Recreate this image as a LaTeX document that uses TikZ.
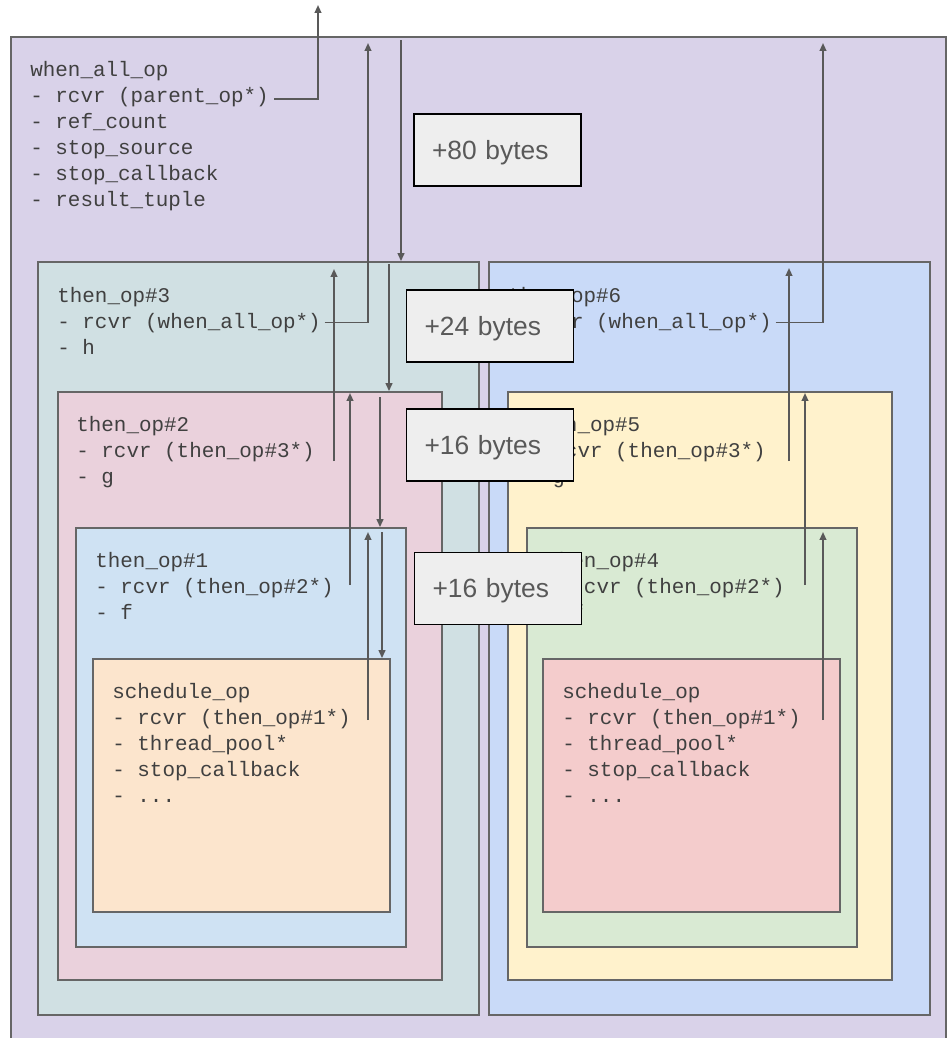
\documentclass[tikz,border=0pt]{standalone}
\usepackage{fontspec}
\setmonofont{Liberation Mono}
\newfontfamily\bytesfont{Liberation Sans}
\usepackage{tikz}
\usetikzlibrary{
  arrows.meta,
  positioning,
  fit,
  calc
}
\definecolor{whenallcolor}{HTML}{D9D2E9}
\definecolor{opthreecolor}{HTML}{D0E0E3}
\definecolor{opsixcolor}{HTML}{C9DAF8}
\definecolor{optwocolor}{HTML}{EAD1DC}
\definecolor{opfivecolor}{HTML}{FFF2CC}
\definecolor{oponecolor}{HTML}{CFE2F3}
\definecolor{opfourcolor}{HTML}{D9EAD3}
\definecolor{schedleftcolor}{HTML}{FCE5CD}
\definecolor{schedrightcolor}{HTML}{F4CCCC}
\definecolor{bordercolor}{HTML}{666666}
\definecolor{fieldcolor}{HTML}{404040}
\definecolor{arrowcolor}{HTML}{595959}
\definecolor{bytesfill}{HTML}{EEEEEE}
\definecolor{bytestext}{HTML}{595959}
\tikzset{
opbox/.style={
  draw=bordercolor,
  line width=1pt,
  inner sep=0pt
},
field/.style={
  font=\ttfamily\fontsize{11.9}{14}\selectfont,
  text=fieldcolor,
  inner sep=0pt,
  anchor=base west
},
bytesbox/.style={
  draw=black,
  line width=1pt,
  fill=bytesfill,
  text width=2.62cm,
  inner xsep=0.36cm,
  inner ysep=0pt,
  text height=10.7pt,
  text depth=0pt,
  minimum height=1.44cm,
  align=left,
  font=\bytesfont\fontsize{15}{18}\selectfont,
  text=bytestext
},
arrow/.style={
  -{Triangle[length=4.5pt,width=3.8pt]},
  line width=1pt,
  draw=arrowcolor
}
}

\begin{document}
\begin{tikzpicture}[x=0.02cm, y=-0.02cm]

\useasboundingbox (0,0) rectangle (952,1038);

% ============================================================================
% OPERATION STATES
% ============================================================================
\node[opbox, fill=whenallcolor, fit={(11,37) (946,1046)}] (whenall) {};
\node[opbox, fill=opthreecolor, fit={(38,262) (479,1015)}] (op3) {};
\node[opbox, fill=opsixcolor, fit={(489,262) (930,1015)}] (op6) {};
\node[opbox, fill=optwocolor, fit={(58,392) (442,980)}] (op2) {};
\node[opbox, fill=opfivecolor, fit={(508,392) (892,980)}] (op5) {};
\node[opbox, fill=oponecolor, fit={(76,528) (406,947)}] (op1) {};
\node[opbox, fill=opfourcolor, fit={(527,528) (857,947)}] (op4) {};
\node[opbox, fill=schedleftcolor, fit={(93,659) (390,912)}] (schedL) {};
\node[opbox, fill=schedrightcolor, fit={(543,659) (840,912)}] (schedR) {};

% ============================================================================
% FIELDS
% ============================================================================
% when_all_op
\node[field] (wtitle) at (30,76) {when\_all\_op};
\node[field] (wrcvr) at (30,102) {- rcvr (parent\_op*)};
\node[field] (wref) at (30,128) {- ref\_count};
\node[field] (wsrc) at (30,154) {- stop\_source};
\node[field] (wcb) at (30,180) {- stop\_callback};
\node[field] (wres) at (30,206) {- result\_tuple};

% left chain
\node[field] (t3) at (57,302) {then\_op\#3};
\node[field] (r3) at (57,328) {- rcvr (when\_all\_op*)};
\node[field] (h3) at (57,354) {- h};

\node[field] (t2) at (76,431) {then\_op\#2};
\node[field] (r2) at (76,457) {- rcvr (then\_op\#3*)};
\node[field] (g2) at (76,483) {- g};

\node[field] (t1) at (95,567) {then\_op\#1};
\node[field] (r1) at (95,593) {- rcvr (then\_op\#2*)};
\node[field] (f1) at (95,619) {- f};

\node[field] (tsL) at (112,698) {schedule\_op};
\node[field] (rsL) at (112,724) {- rcvr (then\_op\#1*)};
\node[field] (psL) at (112,750) {- thread\_pool*};
\node[field] (csL) at (112,776) {- stop\_callback};
\node[field] (esL) at (112,802) {- ...};

% right chain
\node[field] (t6) at (508,302) {then\_op\#6};
\node[field] (r6) at (508,328) {- rcvr (when\_all\_op*)};
\node[field] (h6) at (508,354) {- h};

\node[field] (t5) at (527,431) {then\_op\#5};
\node[field] (r5) at (527,457) {- rcvr (then\_op\#3*)};
\node[field] (g5) at (527,483) {- g};

\node[field] (t4) at (546,567) {then\_op\#4};
\node[field] (r4) at (546,593) {- rcvr (then\_op\#2*)};
\node[field] (f4) at (546,619) {- f};

\node[field] (tsR) at (562,698) {schedule\_op};
\node[field] (rsR) at (562,724) {- rcvr (then\_op\#1*)};
\node[field] (psR) at (562,750) {- thread\_pool*};
\node[field] (csR) at (562,776) {- stop\_callback};
\node[field] (esR) at (562,802) {- ...};

% ============================================================================
% RECEIVER POINTERS
% ============================================================================
\coordinate (wtip) at (318,5);
\coordinate (tip3) at (368,43);
\coordinate (tip6) at (823,43);
\draw[arrow] ([xshift=3pt,yshift=-1.5pt]wrcvr.east) -| (wtip);
\draw[arrow] ([xshift=2pt]r3.east) -| (tip3);
\draw[arrow] ([xshift=2pt]r6.east) -| (tip6);

% left side
\coordinate (p2) at (334,461);
\coordinate (p1) at (350,585);
\coordinate (pL) at (368,720);
\draw[arrow] (p2) -- ++(0,-192);
\draw[arrow] (p1) -- ++(0,-192);
\draw[arrow] (pL) -- ++(0,-188);

% right side
\coordinate (p5) at (789,461);
\coordinate (p4) at (805,585);
\coordinate (pR) at (823,720);
\draw[arrow] (p5) -- ++(0,-193);
\draw[arrow] (p4) -- ++(0,-192);
\draw[arrow] (pR) -- ++(0,-188);

% nesting (down)
\coordinate (d3) at (401,40);
\coordinate (d2) at (389,264);
\coordinate (d1) at (380,397);
\coordinate (d0) at (382,532);
\draw[arrow] (d3) -- (d3 |- op3.north);
\draw[arrow] (d2) -- (d2 |- op2.north);
\draw[arrow] (d1) -- (d1 |- op1.north);
\draw[arrow] (d0) -- (d0 |- schedL.north);

% ============================================================================
% SIZES
% ============================================================================
\node[bytesbox] (b80) at (497.5,150) {+80 bytes};
\node[bytesbox] (b24) at (490,326) {+24 bytes};
\node[bytesbox] (b16a) at (490,445) {+16 bytes};
\node[bytesbox] (b16b) at (498,588.5) {+16 bytes};

\end{tikzpicture}
\end{document}
